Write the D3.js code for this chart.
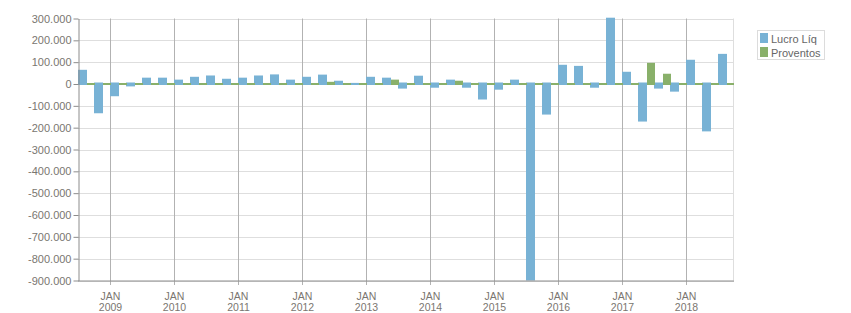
<!DOCTYPE html>
<html>
<head>
<meta charset="utf-8">
<script src="https://cdn.jsdelivr.net/npm/d3@7"></script>
<style>
  html, body { margin: 0; padding: 0; background: #fff; }
  svg { display: block; font-family: "Liberation Sans", Arial, sans-serif; }
</style>
</head>
<body>
<div id="chart"></div>
<script>
// ---- data (quarterly, 3T2008 .. 3T2018) ----
const quarters = [
  "2008-07","2008-10",
  "2009-01","2009-04","2009-07","2009-10",
  "2010-01","2010-04","2010-07","2010-10",
  "2011-01","2011-04","2011-07","2011-10",
  "2012-01","2012-04","2012-07","2012-10",
  "2013-01","2013-04","2013-07","2013-10",
  "2014-01","2014-04","2014-07","2014-10",
  "2015-01","2015-04","2015-07","2015-10",
  "2016-01","2016-04","2016-07","2016-10",
  "2017-01","2017-04","2017-07","2017-10",
  "2018-01","2018-04","2018-07"
];
const lucroLiq = [
  65000, -134000,
  -56000, -11000, 29000, 29000,
  20000, 33000, 39000, 24000,
  29000, 39000, 44000, 20000,
  33000, 43000, 15000, 5000,
  33000, 29000, -21000, 38000,
  -17000, 20000, -17000, -71000,
  -26000, 20000, -905000, -140000,
  88000, 83000, -17000, 305000,
  56000, -172000, -21000, -35000,
  111000, -217000, 138000
];
const proventos = [
  0, 0,
  0, 0, 0, 0,
  0, 0, 0, 0,
  0, 0, 0, 0,
  0, 10000, 0, 0,
  0, 20000, 0, 0,
  0, 15000, 0, 0,
  0, 0, 0, 0,
  0, 0, 0, 0,
  0, 97000, 47000, 0,
  0, 0, 0
];
const seriesNames = ["Lucro Líq", "Proventos"];
const seriesColors = ["#78b2d5", "#89b06a"];
const yTicks = [300000, 200000, 100000, 0, -100000, -200000, -300000, -400000,
                -500000, -600000, -700000, -800000, -900000];
const xTickYears = [2009, 2010, 2011, 2012, 2013, 2014, 2015, 2016, 2017, 2018];
const xTickMonth = "JAN";

// ---- layout ----
const W = 851, H = 313;
const L = 78, R = 734, T = 18.5, B = 280.5;

const parse = d3.timeParse("%Y-%m");
const dates = quarters.map(parse);
const lastEnd = d3.timeMonth.offset(dates[dates.length - 1], 3);

const x = d3.scaleTime().domain([dates[0], lastEnd]).range([L, R]);
const y = d3.scaleLinear().domain([-900000, 300000]).range([B, T]);

const loc = d3.formatLocale({ decimal: ",", thousands: ".", grouping: [3], currency: ["R$", ""], minus: "-" });
const fmt = loc.format(",d");

const svg = d3.select("#chart").append("svg").attr("width", W).attr("height", H);

svg.append("defs").append("clipPath").attr("id", "plotclip")
  .append("rect").attr("x", L).attr("y", T - 1).attr("width", R - L).attr("height", B - T + 1);

// horizontal grid
svg.append("g").selectAll("line").data(yTicks).join("line")
  .attr("x1", L).attr("x2", R)
  .attr("y1", d => Math.round(y(d)) + 0.5).attr("y2", d => Math.round(y(d)) + 0.5)
  .attr("stroke", "#dedede").attr("stroke-width", 1);

// right border
svg.append("line").attr("x1", R - 0.5).attr("x2", R - 0.5).attr("y1", T).attr("y2", B)
  .attr("stroke", "#dedede");

// vertical grid (JAN of each year)
const yearDates = xTickYears.map(yy => new Date(yy, 0, 1));
svg.append("g").selectAll("line").data(yearDates).join("line")
  .attr("x1", d => Math.round(x(d)) + 0.5).attr("x2", d => Math.round(x(d)) + 0.5)
  .attr("y1", T).attr("y2", B + 4.5)
  .attr("stroke", "#b2b2b2").attr("stroke-width", 1);

// bars
const bars = svg.append("g").attr("clip-path", "url(#plotclip)");
const blueW = 9, greenW = 8;
const y0 = y(0);
bars.selectAll("rect.lucro").data(lucroLiq).join("rect")
  .attr("class", "lucro")
  .attr("x", (d, i) => Math.round(x(dates[i])))
  .attr("width", blueW)
  .attr("y", d => d >= 0 ? y(d) : y0 - 1.5)
  .attr("height", d => d >= 0 ? y0 + 1 - y(d) : y(d) - y0 + 1.5)
  .attr("fill", seriesColors[0]);

bars.selectAll("rect.prov").data(proventos).join("rect")
  .attr("class", "prov")
  .attr("x", (d, i) => Math.round(x(dates[i])) + blueW)
  .attr("width", greenW)
  .attr("y", d => d > 0 ? y(d) : y0 - 1)
  .attr("height", d => d > 0 ? y0 + 1 - y(d) : 2)
  .attr("fill", seriesColors[1]);

// left axis
const yAxis = d3.axisLeft(y).tickValues(yTicks).tickFormat(fmt).tickSize(5).tickSizeOuter(0).tickPadding(2);
const gy = svg.append("g").attr("transform", `translate(${L + 0.5},0)`).call(yAxis);
gy.select(".domain").attr("stroke", "#8c8c8c");
gy.selectAll(".tick line").attr("stroke", "#8c8c8c");
gy.selectAll(".tick text").attr("fill", "#7a7670").attr("font-size", "11px")
  .attr("font-family", "Liberation Sans, Arial, sans-serif");

// bottom axis line
svg.append("line").attr("x1", L).attr("x2", R).attr("y1", B + 0.5).attr("y2", B + 0.5)
  .attr("stroke", "#8c8c8c");

// x labels
const xl = svg.append("g").selectAll("g").data(yearDates).join("g")
  .attr("transform", d => `translate(${Math.round(x(d)) + 0.5},0)`);
xl.append("text").attr("y", 300).attr("text-anchor", "middle")
  .attr("font-size", "10.5px").attr("fill", "#7a7670").text(xTickMonth);
xl.append("text").attr("y", 311).attr("text-anchor", "middle")
  .attr("font-size", "10.5px").attr("fill", "#7a7670").text(d => d.getFullYear());

// legend
const lg = svg.append("g");
lg.append("rect").attr("x", 757.5).attr("y", 30.5).attr("width", 67).attr("height", 29)
  .attr("fill", "#fff").attr("stroke", "#dcdcdc");
seriesNames.forEach((name, i) => {
  lg.append("rect").attr("x", 760).attr("y", 33 + i * 14).attr("width", 8).attr("height", 10)
    .attr("fill", seriesColors[i]);
  lg.append("text").attr("x", 771).attr("y", 42.5 + i * 14).attr("font-size", "11px")
    .attr("fill", "#666").text(name);
});
</script>
</body>
</html>
